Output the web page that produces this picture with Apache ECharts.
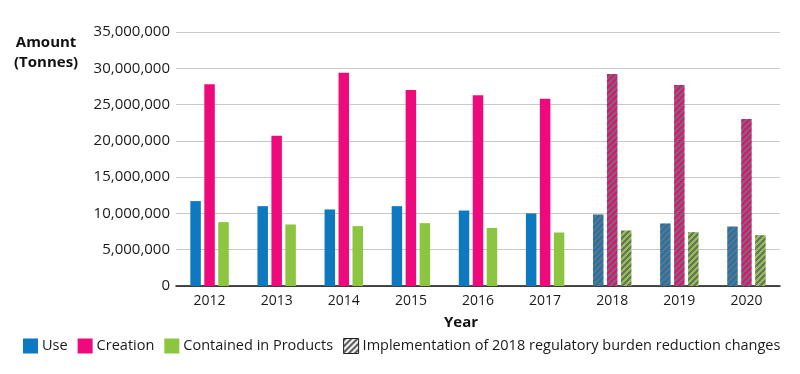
<!DOCTYPE html>
<html>
<head>
<meta charset="utf-8">
<script src="https://cdn.jsdelivr.net/npm/echarts@6/dist/echarts.min.js"></script>
<style>html,body{margin:0;padding:0;background:#fff;}#c{width:800px;height:374px;}</style>
</head>
<body>
<div id="c"></div>
<script>
const years = ['2012','2013','2014','2015','2016','2017','2018','2019','2020'];
const useVals = [11700000, 11000000, 10550000, 11000000, 10400000, 10000000, 9860000, 8620000, 8200000];
const creationVals = [27800000, 20700000, 29400000, 27000000, 26300000, 25800000, 29200000, 27700000, 23000000];
const containedVals = [8800000, 8480000, 8250000, 8660000, 8000000, 7370000, 7650000, 7420000, 7000000];
const hatchedYears = ['2018','2019','2020'];
const seriesNames = ['Use','Creation','Contained in Products','Implementation of 2018 regulatory burden reduction changes'];
const colors = ['#0f79c0', '#ee0a7c', '#8cc540'];
const stripeGray = '#6e6e6e';

function hatch(base, stripe) {
  const p = 6;
  const c = document.createElement('canvas');
  c.width = p; c.height = p;
  const ctx = c.getContext('2d');
  const img = ctx.createImageData(p, p);
  const parse = h => [parseInt(h.slice(1,3),16), parseInt(h.slice(3,5),16), parseInt(h.slice(5,7),16)];
  const a = parse(base), b = parse(stripe);
  for (let y = 0; y < p; y++) for (let x = 0; x < p; x++) {
    const col = ((x + y) % p) < 3 ? b : a;
    const i = (y * p + x) * 4;
    img.data[i] = col[0]; img.data[i+1] = col[1]; img.data[i+2] = col[2]; img.data[i+3] = 255;
  }
  ctx.putImageData(img, 0, 0);
  return { image: c, repeat: 'repeat' };
}

function build(vals, color) {
  const pat = hatch(color, stripeGray);
  return vals.map((v, i) => hatchedYears.indexOf(years[i]) >= 0
    ? { value: v, itemStyle: { color: pat } }
    : v);
}

const font = 'Open Sans';
const chart = echarts.init(document.getElementById('c'), null, { renderer: 'canvas' });
chart.setOption({
  animation: false,
  textStyle: { fontFamily: font },
  grid: { left: 176, right: 20, top: 32, bottom: 88, containLabel: false },
  legend: {
    left: 23, top: 338, padding: 0, icon: 'rect', itemWidth: 15, itemHeight: 15, itemGap: 10,
    textStyle: { fontFamily: font, fontSize: 14.5, color: '#1a1a1a', padding: [0,0,0,-1] },
    data: seriesNames.map((n, i) => i < 3 ? { name: n } : { name: n, itemStyle: { color: hatch('#ffffff', '#555555'), borderColor: '#222', borderWidth: 1 } })
  },
  graphic: [
    { type: 'text', left: 14, top: 33, style: { text: 'Amount\n(Tonnes)', font: 'bold 15px "Open Sans"', fill: '#111', textAlign: 'center', lineHeight: 20 } },
    { type: 'text', left: 444, top: 315, style: { text: 'Year', font: 'bold 15px "Open Sans"', fill: '#111' } }
  ],
  xAxis: {
    type: 'category', data: years,
    axisLine: { lineStyle: { color: '#111', width: 1.5 } },
    axisTick: { show: false },
    axisLabel: { fontFamily: font, fontSize: 14, color: '#1a1a1a', margin: 8 }
  },
  yAxis: {
    type: 'value', min: 0, max: 35000000, interval: 5000000,
    axisLine: { show: false }, axisTick: { show: false },
    splitLine: { lineStyle: { color: '#c8c8c8', width: 1.2 } },
    axisLabel: { fontFamily: font, fontSize: 15, color: '#1a1a1a', margin: 6,
      formatter: v => v.toLocaleString('en-US') }
  },
  series: [
    { name: seriesNames[0], type: 'bar', stack: 'a', barWidth: 10.5, barGap: '33%', itemStyle: { color: colors[0] }, data: build(useVals, colors[0]) },
    { name: seriesNames[1], type: 'bar', barWidth: 10.5, barGap: '33%', itemStyle: { color: colors[1] }, data: build(creationVals, colors[1]) },
    { name: seriesNames[2], type: 'bar', barWidth: 10.5, barGap: '33%', itemStyle: { color: colors[2] }, data: build(containedVals, colors[2]) },
    { name: seriesNames[3], type: 'bar', stack: 'a', barWidth: 10.5, itemStyle: { color: hatch('#ffffff', '#555555'), borderColor: '#222', borderWidth: 1 }, data: [] }
  ]
});
</script>
</body>
</html>
